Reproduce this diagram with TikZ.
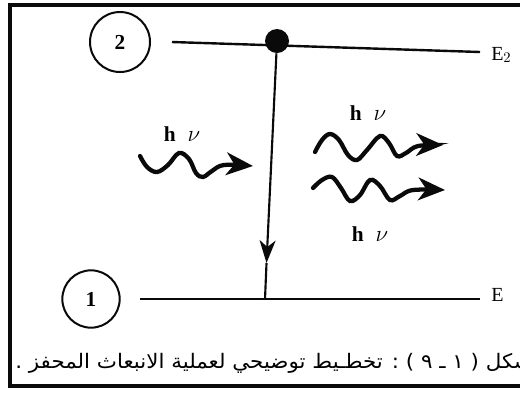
\documentclass[tikz,border=0pt]{standalone}
\usepackage{fontspec}
\setmainfont{Liberation Serif}
\newfontfamily\arabicfont[Script=Arabic]{DejaVu Sans}
\TeXXeTstate=1
\usetikzlibrary{arrows.meta}
\definecolor{ink}{HTML}{0A0A0A}
\tikzset{
  frame/.style={draw=ink, line width=3pt},
  lvl/.style={line width=1.8pt, color=ink},
  lnum/.style={circle, draw=ink, line width=1.5pt, inner sep=0pt,
    font=\fontsize{16}{16}\selectfont\bfseries},
  pop/.style={circle, fill=ink, inner sep=0pt, minimum size=18pt},
  drop/.style={line width=1.6pt, color=ink, -{Stealth[length=17pt,width=12pt,inset=5pt]}},
  photon/.style={line width=3.2pt, color=ink, line cap=round,
    -{Stealth[length=20pt,width=17pt,inset=6pt]}},
  hnu/.style={font=\fontsize{16}{16}\selectfont, inner sep=0pt},
  elab/.style={font=\fontsize{15}{15}\selectfont, anchor=west, inner sep=0pt},
  capt/.style={font=\fontsize{15}{15}\selectfont\arabicfont, anchor=west, inner sep=0pt, xscale=1.07},
}
\begin{document}
\begin{tikzpicture}[x=0.75pt,y=-0.75pt]
  \useasboundingbox (0,0) rectangle (520,394);
  \fill[white] (0,0) rectangle (520,394);
  \draw[frame] (10,5) rectangle (560,386);
  % the two levels
  \node[lnum, minimum size=45pt] (n2) at (120,42) {2};
  \node[lnum, minimum size=43pt] (n1) at (91,299) {1};
  \coordinate (up l) at (172,42);
  \coordinate (up r) at (480,52);
  \coordinate (lo l) at (140,299);
  \coordinate (lo r) at (480,299);
  \draw[lvl] (up l) -- (up r);
  \draw[lvl] (lo l) -- (lo r);
  \node[elab] (e2) at (491,55) {E$_2$};
  \node[elab] (e1) at (491,295) {E};
  % decay
  \node[pop] (exc) at (277,41) {};
  \coordinate (mid) at (266.5,263);
  \coordinate (gnd) at (265,299);
  \draw[drop] (exc) -- (mid);
  \draw[line width=1.6pt, color=ink] (mid) -- (gnd);
  % photons
  \draw[photon] plot[smooth, tension=0.6] coordinates {(140,156) (147,167) (157,172) (168,165)
    (179,153) (189,159) (196,173) (203,177) (212,171) (224,165) (253,166)};
  \draw[photon] plot[smooth, tension=0.6] coordinates {(315,152) (322,140) (330,134) (339,140)
    (348,155) (357,160) (367,150) (380,136) (389,143) (397,156) (406,153) (418,146) (443,145)};
  \draw[photon] plot[smooth, tension=0.6] coordinates {(313,188) (322,180) (332,177) (341,188)
    (350,201) (360,195) (370,180) (380,186) (390,200) (400,196) (413,190) (445,190)};
  \node[hnu] (in) at (182,134) {\textbf{h}\hspace{9pt}$\nu$};
  \node[hnu] (out a) at (368,113) {\textbf{h}\hspace{9pt}$\nu$};
  \node[hnu] (out b) at (370,234) {\textbf{h}\hspace{9pt}$\nu$};
  % caption
  \node[capt] (cap) at (15,363) {\beginR شكل ( ١ ـ ٩ ) : تخطـيط توضيحي لعملية الانبعاث المحفز .\endR};
\end{tikzpicture}
\end{document}
